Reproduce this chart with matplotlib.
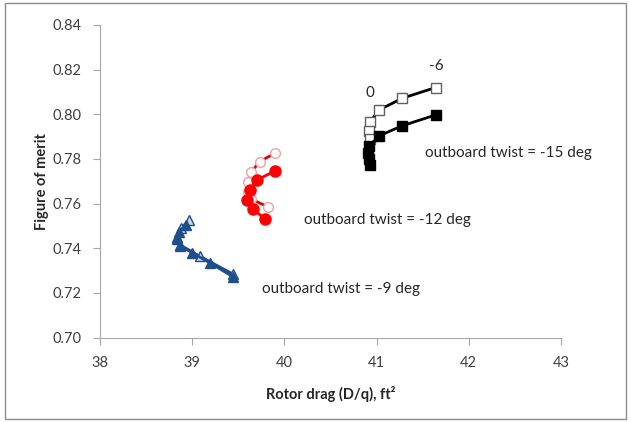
import matplotlib.pyplot as plt
from matplotlib.patches import Rectangle

plt.rcParams['font.family'] = ['Lato', 'DejaVu Sans']

# outboard twist = -15 deg (black)
x15_open = [41.64, 41.28, 41.03, 40.93, 40.92, 40.93]
y15_open = [0.8120, 0.8072, 0.8020, 0.7967, 0.7925, 0.7890]
x15_fill = [41.64, 41.28, 41.03, 40.92, 40.91, 40.92, 40.93]
y15_fill = [0.7997, 0.7949, 0.7904, 0.7858, 0.7828, 0.7800, 0.7773]

# outboard twist = -12 deg (red)
x12_open = [39.90, 39.73, 39.64, 39.61, 39.60, 39.64, 39.82]
y12_open = [0.7826, 0.7788, 0.7740, 0.7695, 0.7652, 0.7620, 0.7586]
x12_fill = [39.90, 39.70, 39.63, 39.59, 39.66, 39.79]
y12_fill = [0.7746, 0.7706, 0.7661, 0.7616, 0.7576, 0.7531]

# outboard twist = -9 deg (blue)
x9_open = [38.96, 38.88, 38.84, 38.87, 39.08, 39.44]
y9_open = [0.7525, 0.7490, 0.7450, 0.7415, 0.7365, 0.7285]
x9_fill = [38.93, 38.86, 38.83, 38.87, 39.00, 39.19, 39.44]
y9_fill = [0.7505, 0.7475, 0.7440, 0.7410, 0.7380, 0.7335, 0.7273]

fig = plt.figure(figsize=(6.31, 4.22), dpi=100)
fig.patches.append(Rectangle((0.008, 0.008), 0.984, 0.984, transform=fig.transFigure,
                             fill=False, edgecolor='#8c8c8c', linewidth=1))
ax = fig.add_axes([0.1585, 0.2, 0.7305, 0.7408])

blue = '#1f4e8c'
ax.plot(x9_open, y9_open, '-^', color=blue, lw=2, ms=7, mfc='#c8d4e6', mec=blue)
ax.plot(x9_fill, y9_fill, '-^', color=blue, lw=2, ms=7, mfc=blue, mec=blue)

ax.plot(x12_open, y12_open, '-o', color='#e00000', lw=2, ms=7, mfc='white', mec='#f0a0a0')
ax.plot(x12_fill, y12_fill, '-o', color='#ff0000', lw=2, ms=8, mfc='#ff0000', mec='#ff0000')

ax.plot(x15_open, y15_open, '-s', color='black', lw=2, ms=7, mfc='white', mec='#606060', mew=1)
ax.plot(x15_fill, y15_fill, '-s', color='black', lw=2, ms=7, mfc='black', mec='black')

ax.text(40.93, 0.8095, '0', fontsize=11, ha='center', va='center', color='#262626')
ax.text(41.65, 0.8216, '-6', fontsize=11, ha='center', va='center', color='#262626')
ax.text(41.53, 0.7827, 'outboard twist = -15 deg', fontsize=11, va='center', color='#262626')
ax.text(40.21, 0.7527, 'outboard twist = -12 deg', fontsize=11, va='center', color='#262626')
ax.text(39.76, 0.7216, 'outboard twist = -9 deg', fontsize=11, va='center', color='#262626')

ax.set_xlim(38, 43)
ax.set_ylim(0.70, 0.84)
ax.set_xticks(range(38, 44))
ax.set_yticks([0.70, 0.72, 0.74, 0.76, 0.78, 0.80, 0.82, 0.84])
ax.set_yticklabels(['%.2f' % v for v in ax.get_yticks()])
for s in ['top', 'right']:
    ax.spines[s].set_visible(False)
for s in ['left', 'bottom']:
    ax.spines[s].set_color('#a6a6a6')
ax.tick_params(colors='#a6a6a6', labelcolor='#404040', labelsize=10.5, length=5, pad=8)
ax.set_xlabel('Rotor drag (D/q), ft²', fontsize=10.5, fontweight='bold', color='#262626', labelpad=12)
ax.set_ylabel('Figure of merit', fontsize=10.5, fontweight='bold', color='#262626', labelpad=3)

plt.savefig('out.png', dpi=100)
